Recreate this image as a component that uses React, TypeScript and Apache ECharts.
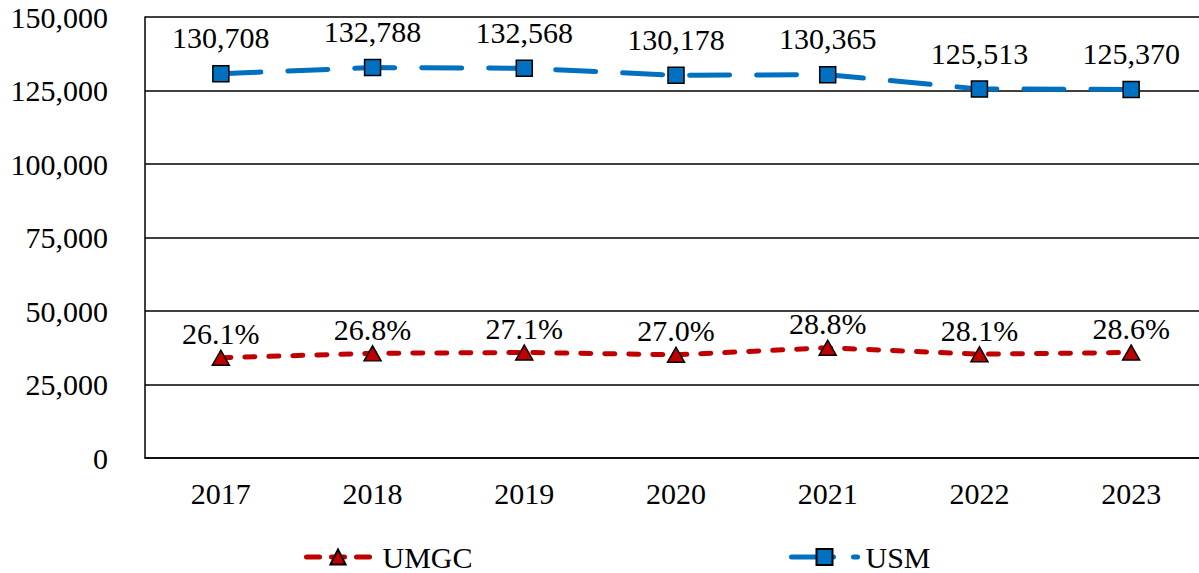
import React, { useEffect, useRef } from "react";
import * as echarts from "echarts";

// Fiscal years on the category axis
const years = ["2017", "2018", "2019", "2020", "2021", "2022", "2023"];

// Total USM enrollment
const usmValues = [130708, 132788, 132568, 130178, 130365, 125513, 125370];

// UMGC enrollment (plotted counts) and its share of USM (shown as labels)
const umgcValues = [34100, 35600, 35900, 35100, 37500, 35300, 35900];
const umgcShareLabels = ["26.1%", "26.8%", "27.1%", "27.0%", "28.8%", "28.1%", "28.6%"];

// Value-axis ticks
const yMin = 0;
const yMax = 150000;
const yStep = 25000;

const FONT = "'Liberation Serif', 'Times New Roman', serif";
const BLUE = "#0070C0";
const RED = "#C00000";

const textBase = { fontFamily: FONT, fontSize: 30, color: "#000" };

export default function App() {
  const ref = useRef<HTMLDivElement>(null);

  useEffect(() => {
    if (!ref.current) return;
    const chart = echarts.init(ref.current, undefined, { renderer: "svg" });
    const fmt = (v: number) => v.toLocaleString("en-US");

    chart.setOption({
      animation: false,
      backgroundColor: "#ffffff",
      textStyle: { fontFamily: FONT, color: "#000" },
      grid: {
        left: 145,
        top: 17,
        width: 1062,
        height: 441,
        containLabel: false,
        outerBoundsMode: "none",
      },
      legend: [
        {
          data: ["UMGC"],
          left: 304,
          top: 542,
          padding: 0,
          itemWidth: 63,
          itemHeight: 19,
          lineStyle: { width: 5, type: [13, 12], cap: "round" },
          textStyle: { ...textBase, padding: [0, 0, 0, 8] },
        },
        {
          data: ["USM"],
          left: 789,
          top: 542,
          padding: 0,
          itemWidth: 66,
          itemHeight: 20,
          lineStyle: { width: 5, type: [42, 20], cap: "round" },
          textStyle: { ...textBase, padding: [0, 0, 0, 3] },
        },
      ],
      xAxis: {
        type: "category",
        data: years,
        boundaryGap: true,
        axisLine: { show: true, lineStyle: { color: "#000", width: 1.5 } },
        axisTick: { show: false },
        axisLabel: { ...textBase, margin: 20 },
        splitLine: { show: false },
      },
      yAxis: {
        type: "value",
        min: yMin,
        max: yMax,
        interval: yStep,
        axisLine: { show: true, lineStyle: { color: "#000", width: 1.5 } },
        axisTick: { show: false },
        axisLabel: {
          ...textBase,
          margin: 37,
          formatter: (v: number) => fmt(v),
        },
        splitLine: { show: true, lineStyle: { color: "#000", width: 1.5 } },
      },
      series: [
        {
          name: "UMGC",
          type: "line",
          data: umgcValues,
          symbol: "triangle",
          symbolSize: [17, 15],
          itemStyle: { color: RED, borderColor: "#000", borderWidth: 1.5 },
          lineStyle: { color: RED, width: 5, type: [10, 14], cap: "round" },
          label: {
            show: true,
            position: "top",
            distance: 1,
            ...textBase,
            formatter: (p: any) => umgcShareLabels[p.dataIndex],
          },
          z: 3,
        },
        {
          name: "USM",
          type: "line",
          data: usmValues,
          symbol: "rect",
          symbolSize: 16,
          itemStyle: { color: BLUE, borderColor: "#000", borderWidth: 1.5 },
          lineStyle: { color: BLUE, width: 5, type: [40, 27], cap: "round" },
          label: {
            show: true,
            position: "top",
            distance: 12,
            ...textBase,
            formatter: (p: any) => fmt(p.value),
          },
          z: 3,
        },
      ],
    });

    return () => chart.dispose();
  }, []);

  return (
    <div
      ref={ref}
      style={{ position: "absolute", left: 0, top: 0, width: 1199, height: 573 }}
    />
  );
}
